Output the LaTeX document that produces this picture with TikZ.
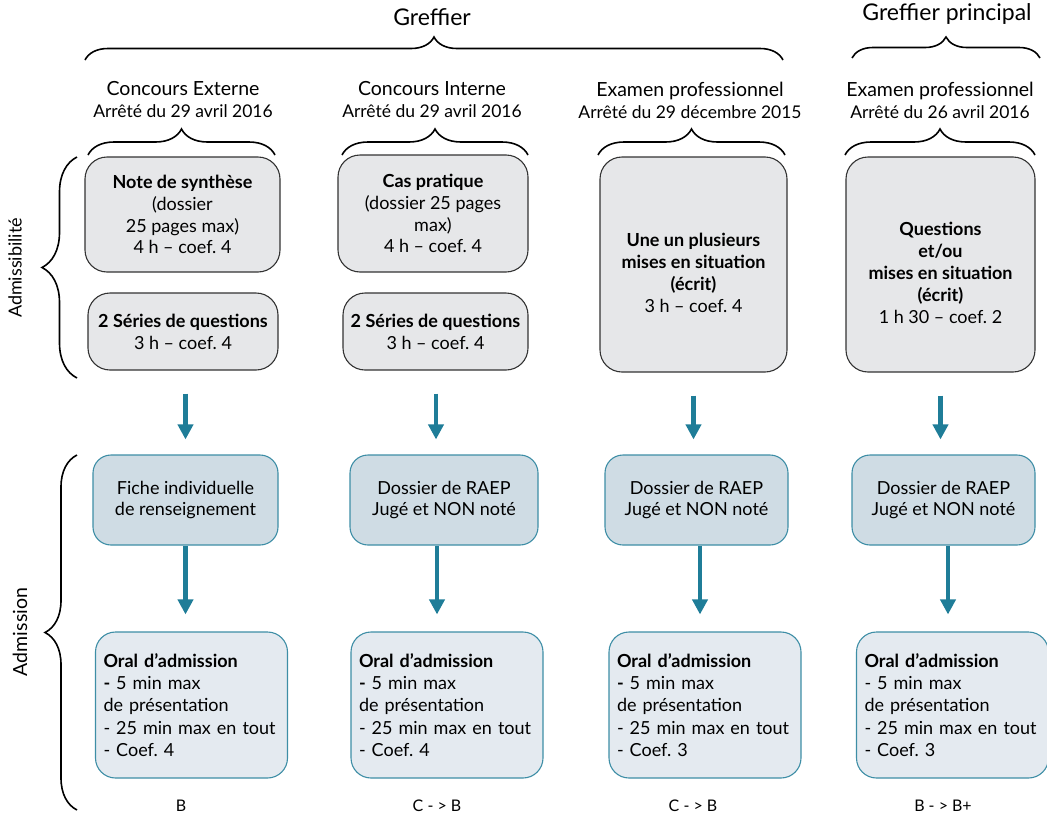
\documentclass[tikz,border=0pt]{standalone}
\usepackage{fontspec}
\setmainfont{Lato}
\usepackage{tikz}
\usetikzlibrary{arrows.meta,decorations.pathreplacing}
\definecolor{fleche}{RGB}{31,125,152}
\definecolor{bordbleu}{RGB}{62,142,166}
\definecolor{fondadm}{RGB}{207,220,228}
\definecolor{fondoral}{RGB}{228,234,240}
\definecolor{fondgris}{RGB}{230,231,233}
\frenchspacing

\begin{document}
\begin{tikzpicture}[x=1pt,y=-1pt,
  txt/.style={font=\fontsize{18}{21.8}\selectfont},
  titre/.style={font=\fontsize{23}{26}\selectfont},
  petit/.style={font=\fontsize{16}{18}\selectfont},
  tete/.style={align=center, font=\fontsize{19.5}{22}\selectfont},
  grise/.style={txt, draw=black!80, fill=fondgris, rounded corners=22pt,
    line width=1.1pt, align=center, inner sep=0pt},
  adm/.style={txt, draw=bordbleu, fill=fondadm, rounded corners=18pt,
    line width=1.1pt, align=center, inner sep=0pt,
    minimum height=90pt},
  oral/.style={txt, font=\fontsize{18}{22.2}\selectfont, draw=bordbleu,
    fill=fondoral, rounded corners=20pt, line width=1.1pt, align=left,
    inner xsep=8pt, inner ysep=0pt, text width=176pt, minimum height=146pt},
  accolade/.style={decorate, line width=1.6pt,
    decoration={brace, amplitude=#1}},
  flux/.style={draw=fleche, line width=4.5pt,
    -{Triangle[width=15pt,length=15pt]}}
  ]
  \useasboundingbox (0,0) rectangle (1047,822);

  \node[titre] (greffier) at (432,17) {Greffier};
  \node[titre] (principal) at (947,14) {Greffier principal};
  \draw[accolade=23pt] (85,60) -- (783,60);
  \draw[accolade=21pt] (852,58) -- (1040,58);

  \node[tete] (col1) at (183,100) {Concours Externe\\{\fontsize{17.5}{20}\selectfont Arrêté du 29 avril 2016}};
  \node[tete] (col2) at (432,100) {Concours Interne\\{\fontsize{17.5}{20}\selectfont Arrêté du 29 avril 2016}};
  \node[tete] (col3) at (690,100) {Examen professionnel\\{\fontsize{17.5}{20}\selectfont Arrêté du 29 décembre 2015}};
  \node[tete] (col4) at (940,100) {Examen professionnel\\{\fontsize{17.5}{20}\selectfont Arrêté du 26 avril 2016}};
  \draw[accolade=26pt] (88,155) -- (275,155);
  \draw[accolade=26pt] (342,155) -- (528,155);
  \draw[accolade=26pt] (598,155) -- (785,155);
  \draw[accolade=26pt] (845,155) -- (1035,155);

  \node[grise, minimum width=195pt, minimum height=115pt] (g1a) at (182.5,214.5)
    {\textbf{Note de synthèse}\\(dossier\\25 pages max)\\4 h – coef. 4};
  \node[grise, minimum width=190pt, minimum height=77pt] (g1b) at (183,331.5)
    {\textbf{2 Séries de questions}\\3 h – coef. 4};
  \node[grise, minimum width=190pt, minimum height=117pt] (g2a) at (433,213.5)
    {\textbf{Cas pratique}\\(dossier 25 pages\\max)\\4 h – coef. 4};
  \node[grise, minimum width=185pt, minimum height=77pt] (g2b) at (435.5,331.5)
    {\textbf{2 Séries de questions}\\3 h – coef. 4};
  \node[grise, minimum width=187pt, minimum height=215pt] (g3) at (693.5,264.5)
    {\rule{0pt}{30pt}\textbf{Une un plusieurs}\\\textbf{mises en situation}\\\textbf{(écrit)}\\3 h – coef. 4};
  \node[grise, minimum width=189pt, minimum height=215pt] (g4) at (940.5,264.5)
    {\rule{0pt}{30pt}\textbf{Questions}\\\textbf{et/ou}\\\textbf{mises en situation}\\\textbf{(écrit)}\\1 h 30 – coef. 2};

  \node[adm, minimum width=185pt] (a1) at (185.5,500) {Fiche individuelle\\de renseignement};
  \node[adm, minimum width=188pt] (a2) at (444,500) {Dossier de RAEP\\Jugé et NON noté};
  \node[adm, minimum width=183pt] (a3) at (696.5,500) {Dossier de RAEP\\Jugé et NON noté};
  \node[adm, minimum width=183pt] (a4) at (943.5,500) {Dossier de RAEP\\Jugé et NON noté};

  \node[oral] (o1) at (191.5,705) {\textbf{Oral d’admission}\\\textbf{-} 5 min max\\de présentation\\- 25 min max en tout\\- Coef. 4};
  \node[oral] (o2) at (447,705) {\textbf{Oral d’admission}\\\textbf{-} 5 min max\\de présentation\\- 25 min max en tout\\- Coef. 4};
  \node[oral] (o3) at (705,705) {\textbf{Oral d’admission}\\\textbf{-} 5 min max\\de présentation\\- 25 min max en tout\\- Coef. 3};
  \node[oral] (o4) at (952.5,705) {\textbf{Oral d’admission}\\- 5 min max\\de présentation\\- 25 min max en tout\\- Coef. 3};

  \draw[flux, shorten <=23pt, shorten >=15pt] (g1b.south -| a1.north) -- (a1.north);
  \draw[flux, shorten <=23pt, shorten >=15pt] (g2b.south -| 436,0) -- (a2.north -| 436,0);
  \draw[flux, shorten <=23pt, shorten >=15pt] (g3.south) -- (a3.north -| g3.south);
  \draw[flux, shorten <=23pt, shorten >=15pt] (g4.south) -- (a4.north -| g4.south);
  \draw[flux, shorten >=17pt] (a1.south) -- (a1.south |- o1.north);
  \draw[flux, shorten >=17pt] (a2.south -| 437,0) -- (o2.north -| 437,0);
  \draw[flux, shorten >=17pt] (a3.south -| 700,0) -- (o3.north -| 700,0);
  \draw[flux, shorten >=17pt] (a4.south -| 948,0) -- (o4.north -| 948,0);

  \node[petit] (n1) at (181,806) {B};
  \node[petit] (n2) at (437,806) {C\ -\ >\ B};
  \node[petit] (n3) at (693,806) {C\ -\ >\ B};
  \node[petit] (n4) at (943,806) {B - > B+};

  \draw[accolade=35pt] (77,378) -- (77,157);
  \draw[accolade=32pt] (77,810) -- (77,455);
  \node[txt, rotate=90] (admissibilite) at (15,268) {Admissibilité};
  \node[txt, rotate=90, font=\fontsize{19.5}{22}\selectfont] (admission) at (20,632) {Admission};
\end{tikzpicture}
\end{document}
